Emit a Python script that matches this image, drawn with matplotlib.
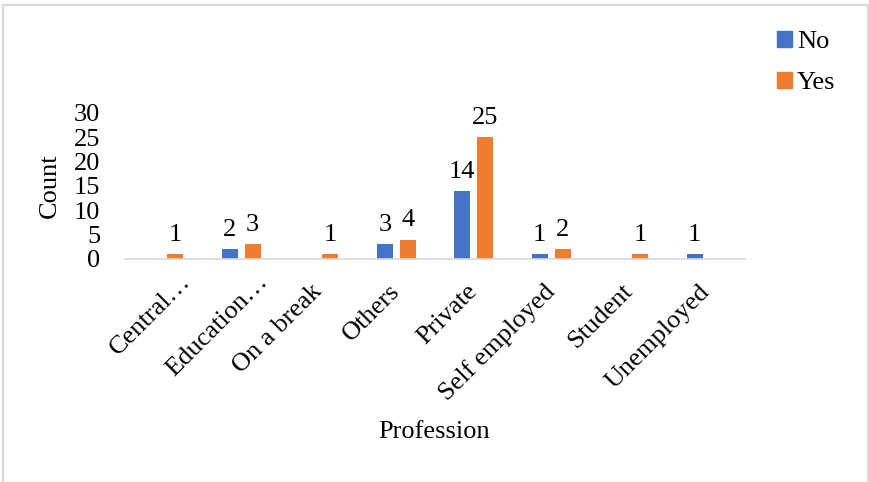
import numpy as np
import matplotlib
matplotlib.use("Agg")
import matplotlib.pyplot as plt
from matplotlib.patches import Patch, Rectangle
from matplotlib.transforms import ScaledTranslation

plt.rcParams["font.family"] = ["Liberation Serif", "DejaVu Serif"]

professions = ["Central…", "Education…", "On a break", "Others", "Private",
               "Self employed", "Student", "Unemployed"]
no_counts = [0, 2, 0, 3, 14, 1, 0, 1]
yes_counts = [1, 3, 1, 4, 25, 2, 1, 0]
y_ticks = [0, 5, 10, 15, 20, 25, 30]

BLUE = "#4472C4"
ORANGE = "#ED7D31"
GRID = "#D9D9D9"
FS = 19

fig = plt.figure(figsize=(8.7, 4.82), dpi=100)
ax = fig.add_axes([0.1437, 0.4627, 0.7126, 0.3029])

x = np.arange(len(professions))
w, off = 0.206, 0.148
b_no = ax.bar(x - off, no_counts, w, color=BLUE)
b_yes = ax.bar(x + off, yes_counts, w, color=ORANGE)

# Excel-style data labels: skip the zero counts
for bars, vals in ((b_no, no_counts), (b_yes, yes_counts)):
    ax.bar_label(bars, labels=["" if v == 0 else str(v) for v in vals],
                 padding=6, fontsize=FS)

ax.set_xlim(-0.5, len(professions) - 0.5)
ax.set_ylim(0, 30)
ax.set_yticks(y_ticks)
ax.tick_params(axis="y", length=0, pad=18, labelsize=FS)
ax.tick_params(axis="x", length=0, pad=21, labelsize=FS)
ax.set_xticks(x)
ax.set_xticklabels(professions, rotation=45, ha="right", va="center",
                   rotation_mode="anchor")

# truncated names sit a little further up and right
for lbl in ax.get_xticklabels():
    if lbl.get_text().endswith("…"):
        lbl.set_transform(lbl.get_transform() + ScaledTranslation(17 / 72, 7 / 72, fig.dpi_scale_trans))

for s in ("top", "right", "left"):
    ax.spines[s].set_visible(False)
ax.spines["bottom"].set_color(GRID)
ax.spines["bottom"].set_linewidth(1.2)

ax.set_ylabel("Count", fontsize=FS, labelpad=9)
fig.text(0.499, 0.104, "Profession", ha="center", va="center", fontsize=FS)

handles = [Patch(color=BLUE, label="No"), Patch(color=ORANGE, label="Yes")]
fig.legend(handles=handles, loc="upper left", bbox_to_anchor=(0.866, 0.985),
           frameon=False, fontsize=FS, handlelength=0.55, handleheight=0.55,
           handletextpad=0.2, labelspacing=0.7)

# light chart-area border
fig.patches.append(Rectangle((0.004, -0.02), 0.994, 1.01, transform=fig.transFigure,
                             fill=False, edgecolor=GRID, linewidth=1.5))

fig.savefig("out.png", dpi=100)
